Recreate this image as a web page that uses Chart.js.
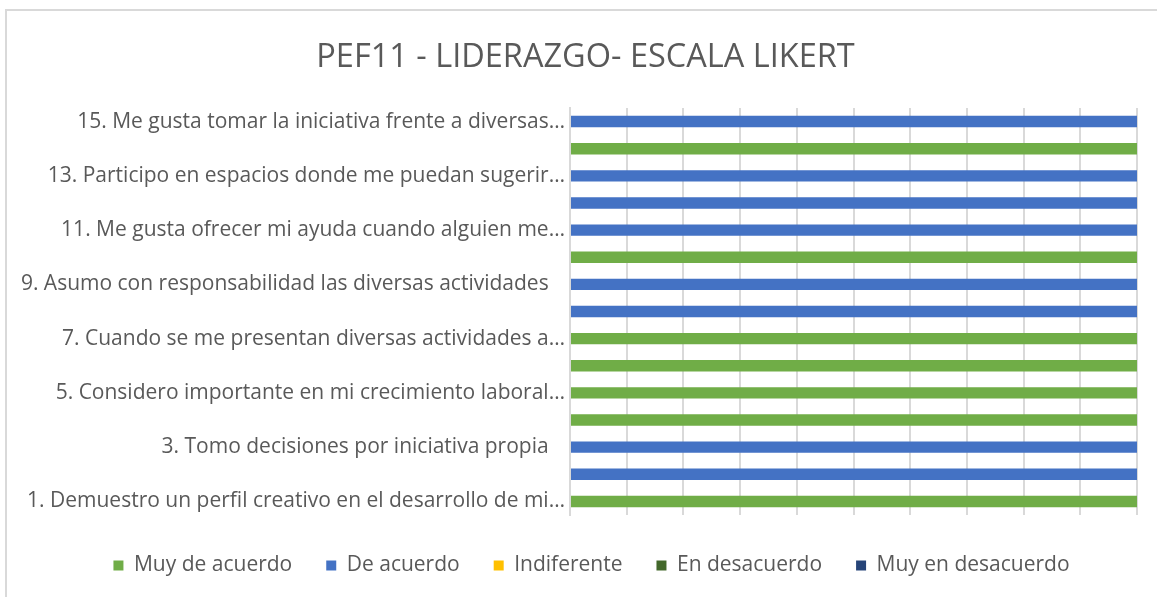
<!DOCTYPE html>
<html>
<head>
<meta charset="utf-8">
<script src="https://cdn.jsdelivr.net/npm/chart.js@4/dist/chart.umd.min.js"></script>
<style>
html,body{margin:0;padding:0;background:#fff;}
#wrap{width:1157px;height:597px;position:relative;}
</style>
</head>
<body>
<div id="wrap"><canvas id="c" width="1157" height="597"></canvas></div>
<script>
const categories = [
  "1. Demuestro un perfil creativo en el desarrollo de mi\u2026",
  "2.",
  "3. Tomo decisiones por iniciativa propia   ",
  "4.",
  "5. Considero importante en mi crecimiento laboral\u2026",
  "6.",
  "7. Cuando se me presentan diversas actividades a\u2026",
  "8.",
  "9. Asumo con responsabilidad las diversas actividades   ",
  "10.",
  "11. Me gusta ofrecer mi ayuda cuando alguien me\u2026",
  "12.",
  "13. Participo en espacios donde me puedan sugerir\u2026",
  "14.",
  "15. Me gusta tomar la iniciativa frente a diversas\u2026"
];
const muyDeAcuerdo     = [1,0,0,1,1,1,1,0,0,1,0,0,0,1,0];
const deAcuerdo        = [0,1,1,0,0,0,0,1,1,0,1,1,1,0,1];
const indiferente      = [0,0,0,0,0,0,0,0,0,0,0,0,0,0,0];
const enDesacuerdo     = [0,0,0,0,0,0,0,0,0,0,0,0,0,0,0];
const muyEnDesacuerdo  = [0,0,0,0,0,0,0,0,0,0,0,0,0,0,0];
const seriesNames = ["Muy de acuerdo","De acuerdo","Indiferente","En desacuerdo","Muy en desacuerdo"];
const chartTitle = "PEF11 - LIDERAZGO- ESCALA LIKERT";

const colors = ["#70AD47","#4472C4","#FFC000","#43682B","#264478"];
const seriesData = [muyDeAcuerdo, deAcuerdo, indiferente, enDesacuerdo, muyEnDesacuerdo];
const FONT = "'Open Sans', sans-serif";

const frame = {
  id: 'frame',
  afterLayout(chart) {
    if (chart.legend) { chart.legend.left += 18; chart.legend.right += 18; }
    if (chart.titleBlock) { chart.titleBlock.left += 12; chart.titleBlock.right += 12; }
  },
  beforeDraw(chart) {
    const ctx = chart.ctx;
    ctx.save();
    ctx.fillStyle = '#fff';
    ctx.fillRect(0,0,chart.width,chart.height);
    ctx.strokeStyle = '#d9d9d9';
    ctx.lineWidth = 2;
    ctx.beginPath();
    ctx.moveTo(6, chart.height);
    ctx.lineTo(6, 10);
    ctx.lineTo(chart.width, 10);
    ctx.stroke();
    ctx.restore();
  }
};

new Chart(document.getElementById('c'), {
  type: 'bar',
  data: {
    labels: categories,
    datasets: seriesNames.map((n,i)=>({
      label: n,
      data: seriesData[i],
      backgroundColor: colors[i],
      borderWidth: 0,
      barPercentage: 0.42,
      categoryPercentage: 1
    }))
  },
  options: {
    indexAxis: 'y',
    responsive: false,
    animation: false,
    layout: { padding: { left: 10, right: 20, top: 38, bottom: 11 } },
    scales: {
      x: {
        stacked: true,
        min: 0, max: 1,
        afterFit(s) { s.height = 6; },
        ticks: { display: false, stepSize: 0.1 },
        grid: { color: '#d9d9d9', lineWidth: 2, drawTicks: false },
        border: { display: false }
      },
      y: {
        stacked: true,
        reverse: true,
        afterFit(s) { s.width = 560; },
        grid: { display: false, drawTicks: false },
        border: { display: true, color: '#d9d9d9', width: 2 },
        ticks: {
          autoSkip: false,
          padding: 5,
          color: '#595959',
          font: { family: FONT, size: 21 },
          callback(v, i) { return i % 2 === 0 ? this.getLabelForValue(v) : ''; }
        }
      }
    },
    plugins: {
      title: {
        display: true,
        text: chartTitle,
        color: '#595959',
        font: { family: FONT, size: 32.5, weight: 'normal' },
        padding: { top: 0, bottom: 31 }
      },
      legend: {
        position: 'bottom',
        labels: {
          color: '#595959',
          font: { family: FONT, size: 21 },
          boxWidth: 10, boxHeight: 10,
          padding: 34
        }
      },
      tooltip: { enabled: false }
    }
  },
  plugins: [frame]
});
</script>
</body>
</html>
